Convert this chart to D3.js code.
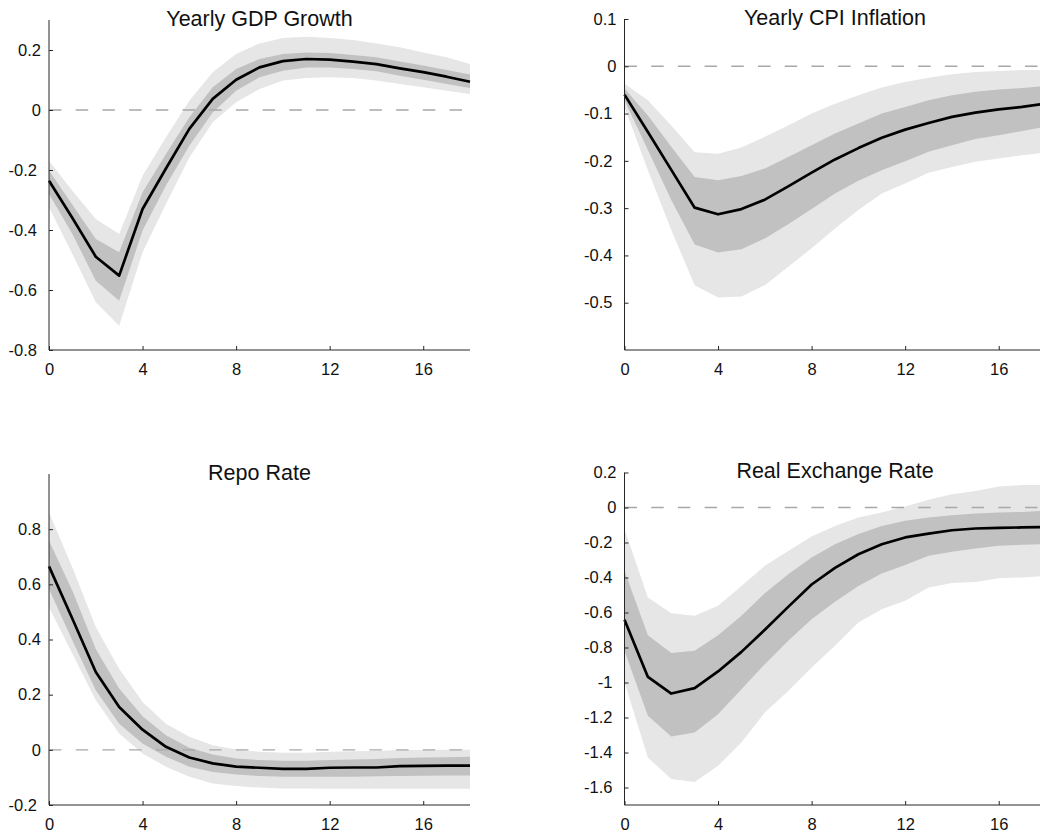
<!DOCTYPE html>
<html>
<head>
<meta charset="utf-8">
<script src="https://cdn.jsdelivr.net/npm/d3@7"></script>
<style>
  html, body { margin: 0; padding: 0; background: #fff; }
  svg { display: block; font-family: "Liberation Sans", Arial, Helvetica, sans-serif; }
</style>
</head>
<body>
<svg id="chart" width="1040" height="832"></svg>
<script>
// Impulse responses over an 18-quarter horizon: median plus two credible bands.
const horizon = [0,1,2,3,4,5,6,7,8,9,10,11,12,13,14,15,16,17,18];
const xTicks = [0, 4, 8, 12, 16];
const xTickLabels = ["0", "4", "8", "12", "16"];

const titles = ["Yearly GDP Growth", "Yearly CPI Inflation", "Repo Rate", "Real Exchange Rate"];

// Yearly GDP growth
const gdpMedian   = [-0.236,-0.36,-0.489,-0.552,-0.33,-0.195,-0.063,0.037,0.101,0.142,0.163,0.170,0.168,0.161,0.153,0.139,0.126,0.111,0.094];
const gdpInnerLo  = [-0.28,-0.413,-0.569,-0.636,-0.402,-0.252,-0.119,-0.008,0.064,0.109,0.131,0.142,0.142,0.137,0.129,0.114,0.101,0.087,0.073];
const gdpInnerHi  = [-0.202,-0.316,-0.43,-0.474,-0.274,-0.147,-0.024,0.076,0.137,0.17,0.187,0.192,0.19,0.183,0.176,0.162,0.148,0.133,0.118];
const gdpOuterLo  = [-0.324,-0.48,-0.641,-0.719,-0.474,-0.313,-0.158,-0.041,0.026,0.07,0.098,0.107,0.109,0.107,0.098,0.087,0.076,0.064,0.053];
const gdpOuterHi  = [-0.169,-0.269,-0.363,-0.413,-0.219,-0.091,0.031,0.126,0.187,0.222,0.24,0.244,0.24,0.233,0.222,0.209,0.192,0.176,0.153];
const gdpYTicks   = [0.2, 0, -0.2, -0.4, -0.6, -0.8];
const gdpYLabels  = ["0.2", "0", "-0.2", "-0.4", "-0.6", "-0.8"];

// Yearly CPI inflation
const cpiMedian   = [-0.06,-0.139,-0.219,-0.299,-0.313,-0.302,-0.282,-0.254,-0.225,-0.197,-0.173,-0.151,-0.134,-0.12,-0.107,-0.098,-0.091,-0.086,-0.079];
const cpiInnerLo  = [-0.072,-0.177,-0.283,-0.377,-0.394,-0.387,-0.364,-0.334,-0.302,-0.269,-0.242,-0.22,-0.201,-0.181,-0.167,-0.154,-0.146,-0.137,-0.128];
const cpiInnerHi  = [-0.047,-0.104,-0.17,-0.234,-0.241,-0.232,-0.216,-0.192,-0.167,-0.142,-0.121,-0.1,-0.086,-0.072,-0.061,-0.054,-0.049,-0.046,-0.042];
const cpiOuterLo  = [-0.086,-0.22,-0.346,-0.463,-0.489,-0.487,-0.463,-0.424,-0.385,-0.343,-0.304,-0.269,-0.248,-0.225,-0.213,-0.202,-0.195,-0.188,-0.183];
const cpiOuterHi  = [-0.037,-0.072,-0.125,-0.182,-0.185,-0.172,-0.149,-0.125,-0.1,-0.079,-0.061,-0.045,-0.033,-0.024,-0.017,-0.012,-0.01,-0.008,-0.008];
const cpiYTicks   = [0.1, 0, -0.1, -0.2, -0.3, -0.4, -0.5];
const cpiYLabels  = ["0.1", "0", "-0.1", "-0.2", "-0.3", "-0.4", "-0.5"];

// Repo rate
const repoMedian  = [0.665,0.475,0.282,0.155,0.073,0.011,-0.028,-0.049,-0.061,-0.065,-0.069,-0.069,-0.065,-0.064,-0.064,-0.059,-0.058,-0.057,-0.057];
const repoInnerLo = [0.583,0.396,0.216,0.095,0.023,-0.025,-0.061,-0.08,-0.089,-0.095,-0.098,-0.098,-0.098,-0.098,-0.096,-0.095,-0.094,-0.093,-0.093];
const repoInnerHi = [0.758,0.577,0.366,0.222,0.122,0.053,0.008,-0.017,-0.031,-0.037,-0.04,-0.04,-0.037,-0.035,-0.033,-0.03,-0.028,-0.027,-0.025];
const repoOuterLo = [0.517,0.348,0.18,0.059,-0.013,-0.061,-0.098,-0.122,-0.131,-0.137,-0.14,-0.14,-0.141,-0.141,-0.141,-0.141,-0.141,-0.141,-0.141];
const repoOuterHi = [0.86,0.661,0.445,0.294,0.173,0.095,0.047,0.017,0.001,-0.007,-0.011,-0.011,-0.007,-0.005,-0.004,-0.001,-0.001,0,0];
const repoYTicks  = [0.8, 0.6, 0.4, 0.2, 0, -0.2];
const repoYLabels = ["0.8", "0.6", "0.4", "0.2", "0", "-0.2"];

// Real exchange rate
const rerMedian   = [-0.642,-0.968,-1.063,-1.032,-0.937,-0.825,-0.699,-0.568,-0.44,-0.345,-0.267,-0.21,-0.171,-0.149,-0.13,-0.12,-0.116,-0.114,-0.112];
const rerInnerLo  = [-0.82,-1.19,-1.309,-1.286,-1.181,-1.038,-0.895,-0.762,-0.638,-0.539,-0.448,-0.377,-0.328,-0.276,-0.253,-0.234,-0.219,-0.213,-0.21];
const rerInnerHi  = [-0.362,-0.73,-0.832,-0.819,-0.73,-0.619,-0.49,-0.381,-0.286,-0.21,-0.152,-0.105,-0.076,-0.057,-0.044,-0.034,-0.029,-0.025,-0.019];
const rerOuterLo  = [-1.0,-1.429,-1.552,-1.568,-1.476,-1.343,-1.171,-1.048,-0.914,-0.79,-0.657,-0.581,-0.533,-0.457,-0.432,-0.425,-0.404,-0.4,-0.39];
const rerOuterHi  = [-0.124,-0.514,-0.604,-0.619,-0.562,-0.448,-0.333,-0.248,-0.166,-0.105,-0.057,-0.029,0.006,0.044,0.076,0.095,0.12,0.128,0.128];
const rerYTicks   = [0.2, 0, -0.2, -0.4, -0.6, -0.8, -1, -1.2, -1.4, -1.6];
const rerYLabels  = ["0.2", "0", "-0.2", "-0.4", "-0.6", "-0.8", "-1", "-1.2", "-1.4", "-1.6"];

const yDomains = [[-0.8, 0.3], [-0.6, 0.1], [-0.2, 1.0], [-1.7, 0.2]];

const panels = [
  { title: titles[0], med: gdpMedian,  iLo: gdpInnerLo,  iHi: gdpInnerHi,  oLo: gdpOuterLo,  oHi: gdpOuterHi,  dom: yDomains[0], ticks: gdpYTicks,  labels: gdpYLabels,  left: 49,    top: 20,    bottom: 350 },
  { title: titles[1], med: cpiMedian,  iLo: cpiInnerLo,  iHi: cpiInnerHi,  oLo: cpiOuterLo,  oHi: cpiOuterHi,  dom: yDomains[1], ticks: cpiYTicks,  labels: cpiYLabels,  left: 624.5, top: 19,    bottom: 350 },
  { title: titles[2], med: repoMedian, iLo: repoInnerLo, iHi: repoInnerHi, oLo: repoOuterLo, oHi: repoOuterHi, dom: yDomains[2], ticks: repoYTicks, labels: repoYLabels, left: 49,    top: 474,   bottom: 805 },
  { title: titles[3], med: rerMedian,  iLo: rerInnerLo,  iHi: rerInnerHi,  oLo: rerOuterLo,  oHi: rerOuterHi,  dom: yDomains[3], ticks: rerYTicks,  labels: rerYLabels,  left: 624.5, top: 472.5, bottom: 805 }
];

const plotWidth = 421;
const tickFont = "16.5px";
const titleFont = "21.5px";
const svg = d3.select("#chart");
svg.append("rect").attr("width", 1040).attr("height", 832).attr("fill", "#fff");

panels.forEach(p => {
  const x = d3.scaleLinear().domain([0, 18]).range([p.left, p.left + plotWidth]);
  const y = d3.scaleLinear().domain(p.dom).range([p.bottom, p.top]);
  const g = svg.append("g");

  const band = (lo, hi) => d3.area()
    .x((d, i) => x(horizon[i]))
    .y0((d, i) => y(lo[i]))
    .y1((d, i) => y(hi[i]));

  g.append("path").datum(horizon).attr("d", band(p.oLo, p.oHi)).attr("fill", "#e6e6e6");
  g.append("path").datum(horizon).attr("d", band(p.iLo, p.iHi)).attr("fill", "#c1c1c1");

  // zero reference line
  g.append("line")
    .attr("x1", x(0)).attr("x2", x(18))
    .attr("y1", y(0)).attr("y2", y(0))
    .attr("stroke", "#a8a8a8").attr("stroke-width", 1.4)
    .attr("stroke-dasharray", "12.5,14.2");

  const line = d3.line().x((d, i) => x(horizon[i])).y(d => y(d));
  g.append("path").datum(p.med).attr("d", line)
    .attr("fill", "none").attr("stroke", "#000").attr("stroke-width", 2.7)
    .attr("stroke-linejoin", "round");

  // axes with inward ticks, no box
  const xAxis = d3.axisBottom(x).tickValues(xTicks).tickSize(-4).tickPadding(8)
    .tickFormat((d, i) => xTickLabels[i]);
  const yAxis = d3.axisLeft(y).tickValues(p.ticks).tickSize(-4).tickPadding(8)
    .tickFormat((d, i) => p.labels[i]);

  const gx = g.append("g").attr("transform", `translate(0,${p.bottom})`).call(xAxis);
  const gy = g.append("g").attr("transform", `translate(${p.left},0)`).call(yAxis);
  [gx, gy].forEach(a => {
    a.select(".domain").remove();
    a.selectAll(".tick line").attr("stroke", "#262626");
    a.selectAll("text").attr("fill", "#111").style("font-size", tickFont)
      .style("font-family", '"Liberation Sans", Arial, sans-serif');
  });
  // negative labels sit a little further from the axis
  gy.selectAll(".tick text").attr("x", d => d < 0 ? -12 : -8);
  g.append("line").attr("x1", p.left).attr("x2", p.left + plotWidth)
    .attr("y1", p.bottom).attr("y2", p.bottom).attr("stroke", "#262626");
  g.append("line").attr("x1", p.left).attr("x2", p.left)
    .attr("y1", p.top).attr("y2", p.bottom).attr("stroke", "#262626");
  gx.selectAll("text").attr("dy", null).attr("y", 24.5);

  g.append("text")
    .attr("x", p.left + plotWidth / 2).attr("y", p.top + 5.5)
    .attr("text-anchor", "middle")
    .style("font-size", titleFont).attr("fill", "#111")
    .text(p.title);
});
</script>
</body>
</html>
